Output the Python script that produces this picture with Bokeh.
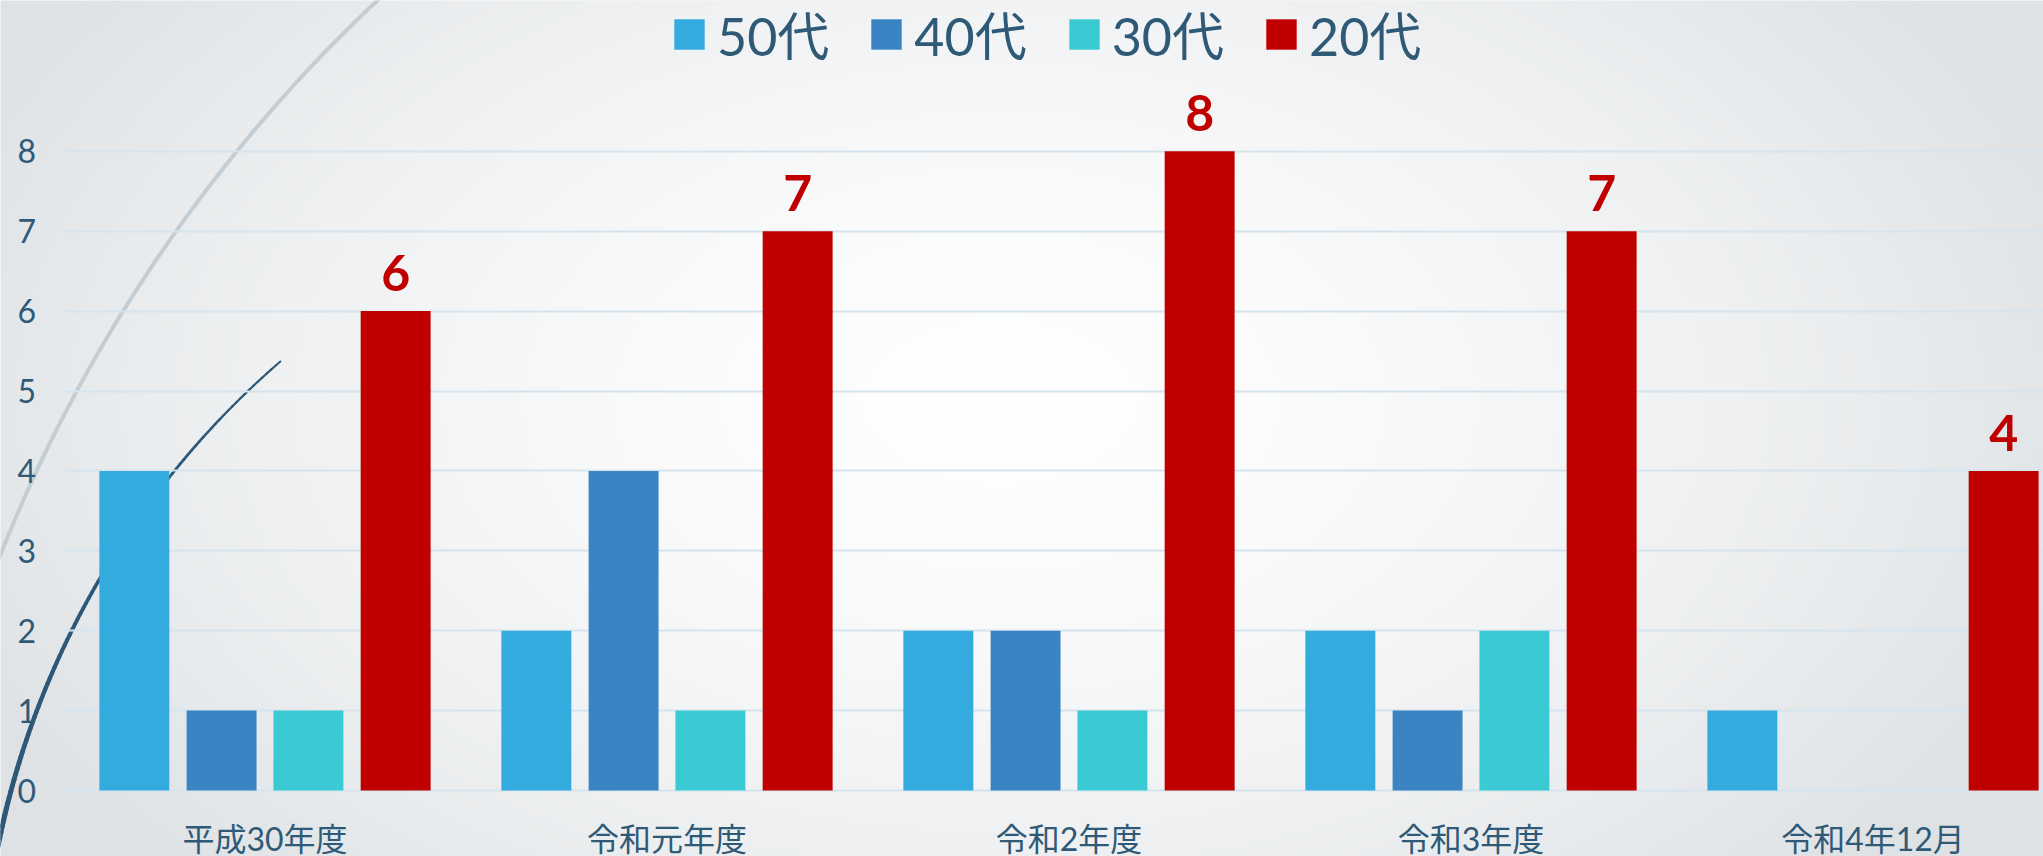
import numpy as np
from bokeh.plotting import figure
from bokeh.models import ColumnDataSource, FixedTicker, Legend, LegendItem, Range1d
from bokeh.transform import dodge
from bokeh.core.properties import value
from bokeh.embed import file_html
from bokeh.resources import INLINE

# ---------------- data ----------------
categories = ["平成30年度", "令和元年度", "令和2年度", "令和3年度", "令和4年12月"]
series_names = ["50代", "40代", "30代", "20代"]
s50 = [4, 2, 2, 2, 1]
s40 = [1, 4, 2, 1, 0]
s30 = [1, 1, 1, 2, 0]
s20 = [6, 7, 8, 7, 4]
y_ticks = [0, 1, 2, 3, 4, 5, 6, 7, 8]

# ---------------- layout constants ----------------
W, H = 2043, 856
X0_PX = 264.5     # canvas x of first category centre
CAT_PX = 402.0    # px per category
Y0_PX = 790.0     # canvas y of value 0
UNIT_PX = 79.9    # px per unit

x_start = -X0_PX / CAT_PX
x_end = (W - X0_PX) / CAT_PX
y_end = Y0_PX / UNIT_PX
y_start = -(H - Y0_PX) / UNIT_PX

TEXT_COL = "#2f5a77"
FONT = "Lato, 'Noto Sans CJK JP', sans-serif"

p = figure(width=W, height=H, x_range=Range1d(x_start, x_end), y_range=Range1d(y_start, y_end),
           output_backend="svg", toolbar_location=None,
           min_border_left=0, min_border_right=0, min_border_top=0, min_border_bottom=0)
p.outline_line_color = None
p.background_fill_color = "#eef0f2"
p.border_fill_color = "#eef0f2"

# ---------------- background radial gradient ----------------
nx, ny = 511, 214
cx = (np.arange(nx) + 0.5) / nx * W
cy = H - (np.arange(ny) + 0.5) / ny * H
X, Y = np.meshgrid(cx, cy)
d = np.sqrt(((X - 1000) / 1150.0) ** 2 + ((Y - 400) / 700.0) ** 2)
t = np.clip(d, 0, 1) ** 1.6
c_center = np.array([254, 254, 254])
c_edge = np.array([222, 226, 229])
img = np.empty((ny, nx), dtype=np.uint32)
view = img.view(dtype=np.uint8).reshape((ny, nx, 4))
for k in range(3):
    view[:, :, k] = (c_center[k] + (c_edge[k] - c_center[k]) * t).astype(np.uint8)
view[:, :, 3] = 255
p.image_rgba(image=[img], x=x_start, y=y_start, dw=x_end - x_start, dh=y_end - y_start, level="image")


# ---------------- decorative arcs ----------------
def page_to_data(px, py):
    return (px - X0_PX) / CAT_PX, (Y0_PX - py) / UNIT_PX


def arc_pts(cxp, cyp, r, a0, a1, n=200):
    th = np.radians(np.linspace(a0, a1, n))
    px = cxp + r * np.cos(th)
    py = cyp - r * np.sin(th)
    return page_to_data(px, py)


lx, ly = arc_pts(1428, 1120, 1536, 128, 166)
p.line(lx, ly, line_color="#c4cdd4", line_width=4, level="image")

dx, dy = arc_pts(847.5, 1016.3, 867, 130.9, 178, n=120)
lw = np.linspace(2.0, 6.0, len(dx) - 1)
p.segment(x0=dx[:-1], y0=dy[:-1], x1=dx[1:], y1=dy[1:], line_color="#2e5877",
          line_width=lw, line_cap="round", level="image")

# ---------------- bars ----------------
src = ColumnDataSource(dict(
    x=list(range(len(categories))),
    s50=s50, s40=s40, s30=s30, s20=s20,
    s20_txt=[str(v) for v in s20],
))
fields = ["s50", "s40", "s30", "s20"]
offsets = [-0.325, -0.108, 0.108, 0.325]
colors = ["#33abdf", "#3a84c3", "#3acad3", "#c00000"]
bw = 0.174

renderers = []
for f, off, col in zip(fields, offsets, colors):
    r = p.vbar(x=dodge("x", off, range=p.x_range), top=f, bottom=0, width=bw, source=src,
               fill_color=col, line_color=None)
    renderers.append(r)

# data labels for 20代
p.text(x=dodge("x", offsets[3], range=p.x_range), y="s20", text="s20_txt", source=src,
       text_align="center", text_baseline="alphabetic", y_offset=-38,
       text_font=value("Lato"), text_font_style="bold", text_font_size="50px",
       text_color="#c00000")

# ---------------- axes ----------------
p.yaxis.fixed_location = -0.5
p.yaxis.ticker = FixedTicker(ticks=y_ticks)
p.yaxis.axis_line_color = None
p.yaxis.major_tick_line_color = None
p.yaxis.major_tick_out = 0
p.yaxis.major_tick_in = 0
p.yaxis.minor_tick_line_color = None
p.yaxis.major_label_standoff = 28
p.yaxis.major_label_text_font = FONT
p.yaxis.major_label_text_font_size = "32px"
p.yaxis.major_label_text_color = TEXT_COL

p.xaxis.fixed_location = 0
p.xaxis.ticker = FixedTicker(ticks=list(range(len(categories))))
p.xaxis.major_label_overrides = {i: c for i, c in enumerate(categories)}
p.xaxis.axis_line_color = None
p.xaxis.major_tick_line_color = None
p.xaxis.major_tick_out = 0
p.xaxis.major_tick_in = 0
p.xaxis.minor_tick_line_color = None
p.xaxis.major_label_standoff = 28
p.xaxis.major_label_text_font = FONT
p.xaxis.major_label_text_font_size = "32px"
p.xaxis.major_label_text_color = TEXT_COL

p.xgrid.visible = False
p.ygrid.ticker = FixedTicker(ticks=y_ticks)
p.ygrid.grid_line_color = "#d6e4ee"
p.ygrid.grid_line_width = 2
if "cross_bounds" in p.ygrid.properties():
    p.ygrid.cross_bounds = (-0.5, x_end)

# ---------------- legend ----------------
legend = Legend(items=[LegendItem(label=n, renderers=[r]) for n, r in zip(series_names, renderers)],
                orientation="horizontal", location=(670, 785),
                glyph_width=38, glyph_height=38, label_standoff=9, spacing=38,
                padding=0, margin=0,
                label_text_font=FONT, label_text_font_size="52px", label_text_color=TEXT_COL,
                background_fill_alpha=0, border_line_color=None)
p.add_layout(legend)

open("out.html", "w").write(file_html(p, INLINE))
